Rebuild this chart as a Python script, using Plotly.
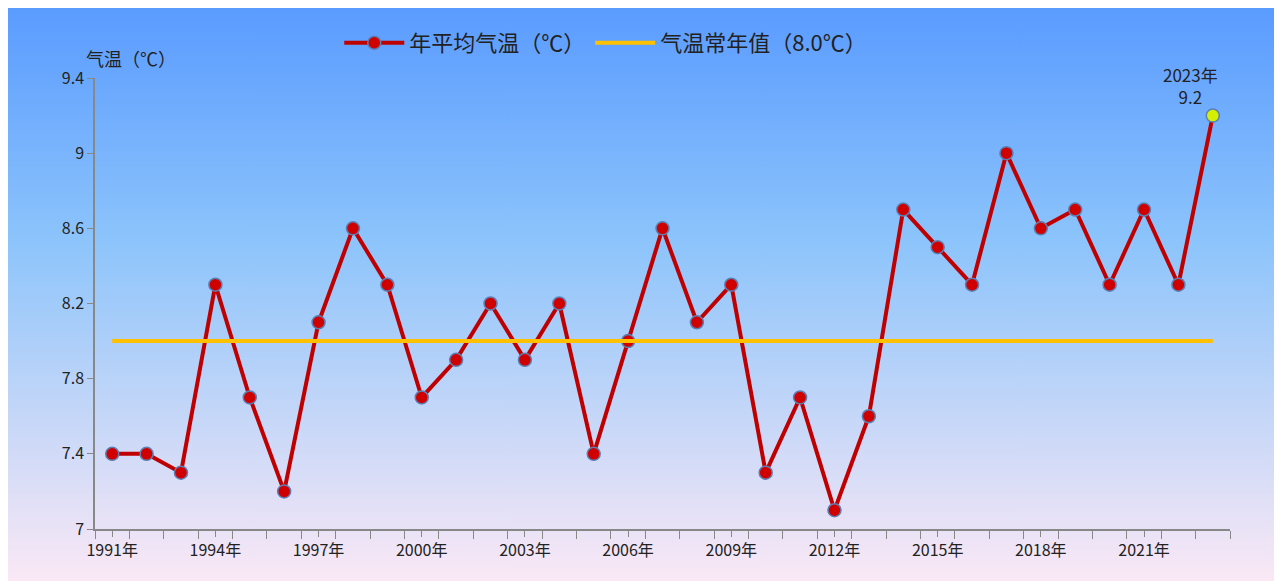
import plotly.graph_objects as go
import base64

years = list(range(1991, 2024))
temps = [7.4, 7.4, 7.3, 8.3, 7.7, 7.2, 8.1, 8.6, 8.3, 7.7, 7.9, 8.2, 7.9, 8.2, 7.4, 8.0,
         8.6, 8.1, 8.3, 7.3, 7.7, 7.1, 7.6, 8.7, 8.5, 8.3, 9.0, 8.6, 8.7, 8.3, 8.7, 8.3, 9.2]
normal = 8.0
tick_years = list(range(1991, 2022, 3))
tick_labels = [f"{y}年" for y in tick_years]

svg = ('<svg xmlns="http://www.w3.org/2000/svg" width="100" height="100" preserveAspectRatio="none">'
       '<defs><linearGradient id="g" x1="0" y1="0" x2="0" y2="1">'
       '<stop offset="0" stop-color="#5a9bff"/><stop offset="0.4" stop-color="#8cc4fb"/>'
       '<stop offset="1" stop-color="#fde9f5"/></linearGradient></defs>'
       '<rect width="100" height="100" fill="url(#g)"/></svg>')
src = "data:image/svg+xml;base64," + base64.b64encode(svg.encode()).decode()

W, H, L, R, T, B = 1282, 581, 87, 60, 70, 60
pw, ph = W - L - R, H - T - B

font = "Noto Sans CJK SC"
fig = go.Figure()
fig.add_trace(go.Scatter(
    x=years, y=temps, mode="lines+markers", name="年平均气温（℃）",
    line=dict(color="#c00000", width=4),
    marker=dict(size=13, color=["#d00000"] * (len(years) - 1) + ["#d4f000"],
                line=dict(color="#5b7fb5", width=1.5))))
fig.add_trace(go.Scatter(
    x=[years[0], years[-1]], y=[normal, normal], mode="lines", name="气温常年值（8.0℃）",
    line=dict(color="#ffc000", width=4)))

fig.update_layout(
    width=W, height=H, margin=dict(l=L, r=R, t=T, b=B, autoexpand=False),
    paper_bgcolor="rgba(0,0,0,0)", plot_bgcolor="rgba(0,0,0,0)",
    font=dict(family=font, size=16, color="#222"),
    images=[dict(source=src, xref="paper", yref="paper", x=-L / pw, y=1 + T / ph,
                 sizex=W / pw, sizey=H / ph, sizing="stretch", layer="below",
                 xanchor="left", yanchor="top")],
    legend=dict(orientation="h", x=0.45, xanchor="center", y=1 + 35 / ph, yanchor="middle",
                font=dict(size=22), itemwidth=60, bgcolor="rgba(0,0,0,0)"),
    showlegend=True,
    xaxis=dict(range=[1990.5, 2023.5], tickvals=tick_years, ticktext=tick_labels,
               ticks="outside", ticklen=6, tickcolor="#888", showgrid=False,
               showline=True, linecolor="#888", linewidth=1.5, zeroline=False,
               minor=dict(tickvals=[y + 0.5 for y in range(1990, 2024)], ticks="outside",
                          ticklen=8, tickcolor="#888")),
    yaxis=dict(range=[7, 9.4], tickvals=[7, 7.4, 7.8, 8.2, 8.6, 9, 9.4],
               ticktext=["7", "7.4", "7.8", "8.2", "8.6", "9", "9.4"],
               ticks="outside", ticklen=6, tickcolor="#888", showgrid=False,
               showline=True, linecolor="#888", linewidth=1.5, zeroline=False),
    annotations=[
        dict(text="气温（℃）", xref="paper", yref="paper", x=-0.01, y=1.01,
             xanchor="left", yanchor="bottom", showarrow=False, font=dict(size=18)),
        dict(text="2023年<br>9.2", x=2023, y=9.2, xref="x", yref="y", showarrow=False,
             yshift=30, xshift=-22, font=dict(size=17)),
    ])
fig.write_html("out.html")
